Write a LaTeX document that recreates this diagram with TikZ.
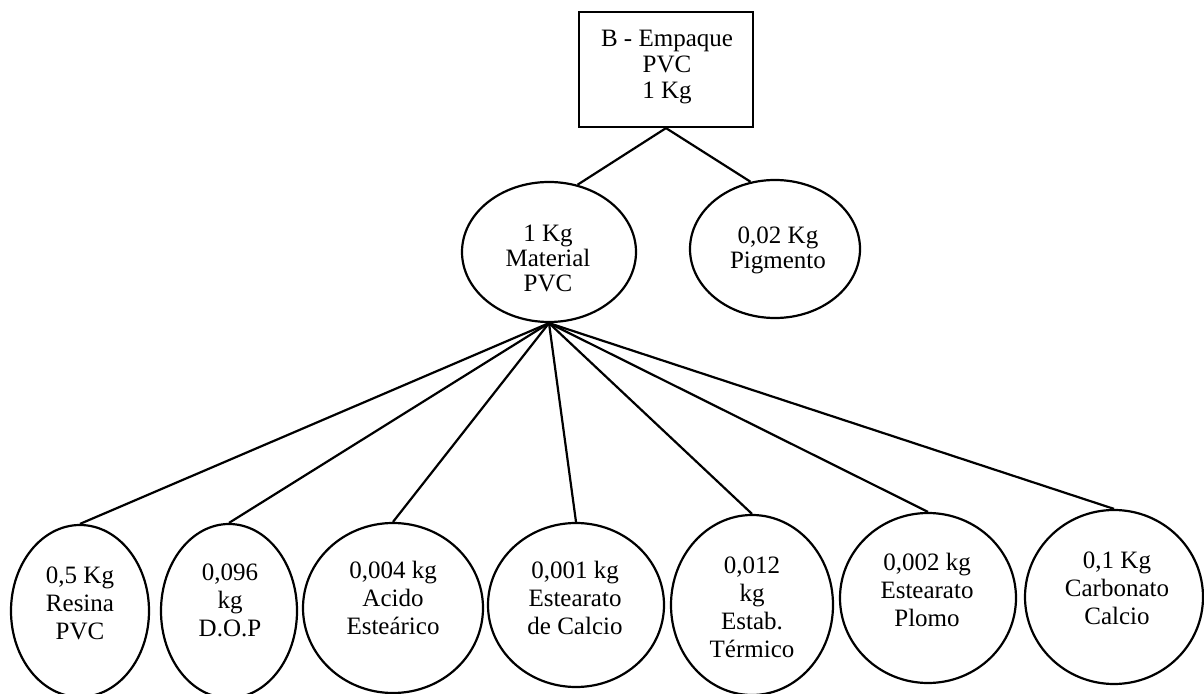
\documentclass[tikz,border=0pt]{standalone}
\usepackage{fontspec}
\setmainfont{Liberation Serif}
\usetikzlibrary{shapes.geometric}
\begin{document}
\begin{tikzpicture}[x=0.5pt,y=-0.5pt,
  oval/.style={draw, ellipse, line width=1.1pt, inner sep=0pt},
  lbl/.style={align=center, font=\fontsize{12.5}{14}\selectfont, inner sep=0pt},
  midlbl/.style={align=center, font=\fontsize{12.5}{12.5}\selectfont, inner sep=0pt},
  conn/.style={line width=1.1pt}]
\useasboundingbox (0,0) rectangle (1204,694);
% top box
\node[draw, line width=1.1pt, minimum width=87pt, minimum height=57.5pt, inner sep=0pt] (box) at (666,69.5) {};
\node[align=center, font=\fontsize{12.5}{13}\selectfont, inner sep=0pt] (boxt) at (667,67) {B - Empaque\\PVC\\1 Kg};
% middle level
\node[oval, minimum width=87pt, minimum height=70pt] (mat) at (549,252) {};
\node[midlbl] (matt) at (548,258) {1 Kg\\Material\\PVC};
\node[oval, minimum width=85pt, minimum height=69pt] (pig) at (775,249) {};
\node[midlbl] (pigt) at (778,250) {0,02 Kg\\Pigmento};
% bottom level
\node[oval, minimum width=69pt, minimum height=86pt] (b1) at (80,611) {};
\node[lbl] (t1) at (80,603) {0,5 Kg\\Resina\\PVC};
\node[oval, minimum width=68pt, minimum height=87pt] (b2) at (229,611) {};
\node[lbl] (t2) at (230,600) {0,096\\kg\\D.O.P};
\node[oval, minimum width=90pt, minimum height=85pt] (b3) at (393,608) {};
\node[lbl] (t3) at (393,598) {0,004 kg\\Acido\\Esteárico};
\node[oval, minimum width=88pt, minimum height=82pt] (b4) at (576,605) {};
\node[lbl] (t4) at (575,598) {0,001 kg\\Estearato\\de Calcio};
\node[oval, minimum width=81pt, minimum height=90pt] (b5) at (752,605) {};
\node[lbl] (t5) at (752,607) {0,012\\kg\\Estab.\\Térmico};
\node[oval, minimum width=88pt, minimum height=85pt] (b6) at (928,598) {};
\node[lbl] (t6) at (927,590) {0,002 kg\\Estearato\\Plomo};
\node[oval, minimum width=89pt, minimum height=87pt] (b7) at (1114,597) {};
\node[lbl] (t7) at (1117,588) {0,1 Kg\\Carbonato\\Calcio};
% connectors
\draw[conn] (box.south) -- (mat.67);
\draw[conn] (box.south) -- (pig.110);
\foreach \b in {b1,b2,b3,b4,b5,b6,b7}
  \draw[conn] (mat.south) -- (\b.north);
\end{tikzpicture}
\end{document}
